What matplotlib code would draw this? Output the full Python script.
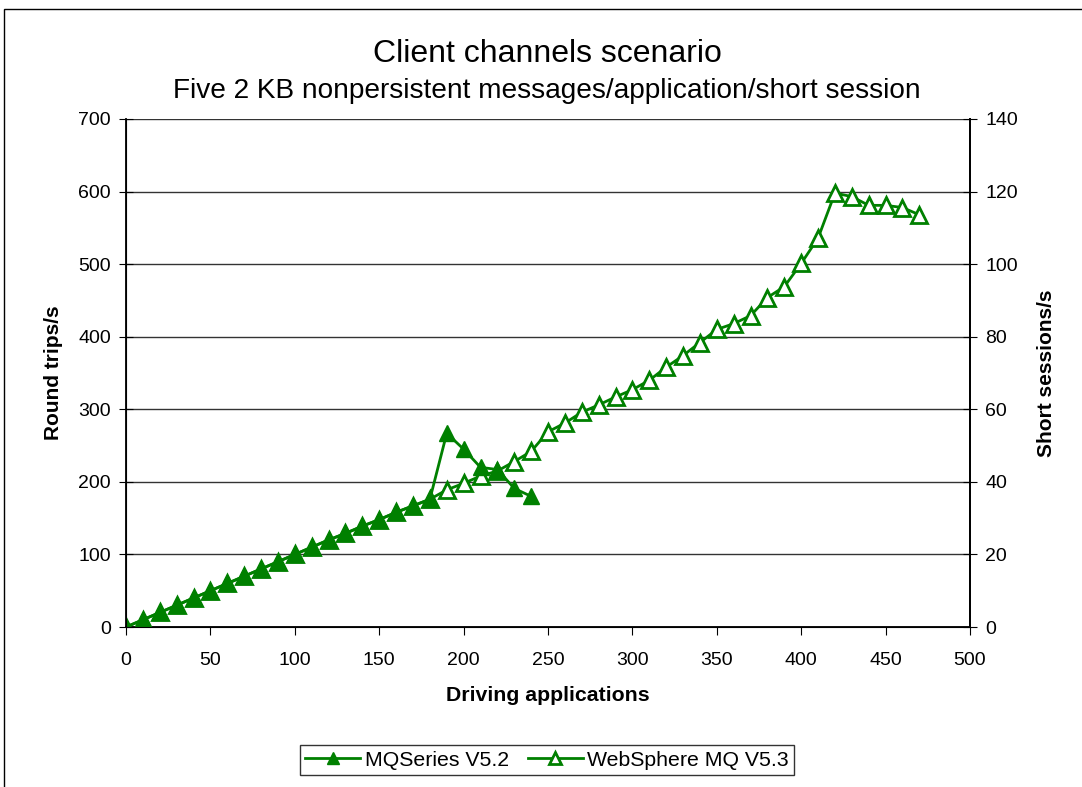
import matplotlib
matplotlib.use("Agg")
import matplotlib.pyplot as plt
from matplotlib.patches import Rectangle

plt.rcParams['font.family'] = ['Liberation Sans', 'DejaVu Sans']

# driving applications
apps_v52 = list(range(0, 250, 10))
apps_v53 = list(range(0, 480, 10))

# round trips/s
trips_v52 = [0, 10, 20, 30, 40, 50, 60, 70, 80, 90, 100, 110, 120, 129, 139,
             148, 158, 167, 176, 267, 245, 220, 217, 191, 180]
trips_v53 = [0, 10, 20, 30, 40, 50, 60, 70, 80, 90, 100, 110, 120, 129, 139,
             148, 158, 167, 176, 189, 198, 208, 215, 228, 242, 269, 281, 296,
             306, 317, 327, 340, 358, 374, 392, 410, 418, 429, 454, 469, 501,
             536, 598, 593, 581, 581, 578, 568]

green = '#008000'

fig = plt.figure(figsize=(10.82, 7.87), dpi=100)
ax = fig.add_axes([0.1165, 0.2033, 0.78, 0.6455])

ax.plot(apps_v52, trips_v52, color=green, lw=2, marker='^', ms=11,
        mfc=green, mec=green, label='MQSeries V5.2', zorder=4)
ax.plot(apps_v53, trips_v53, color=green, lw=2, marker='^', ms=11,
        mfc='white', mec=green, mew=2, label='WebSphere MQ V5.3', zorder=3)

ax.set_xlim(0, 500)
ax.set_ylim(0, 700)
ax.set_xticks(range(0, 501, 50))
ax.set_yticks(range(0, 701, 100))
ax.yaxis.grid(True, color='#333333', lw=1)
ax.set_axisbelow(True)
ax.spines['top'].set_visible(False)
for s in ['left', 'bottom', 'right']:
    ax.spines[s].set_linewidth(1.3)
ax.tick_params(axis='x', direction='out', length=6, labelsize=14, pad=12)
ax.tick_params(axis='y', direction='inout', length=10, labelsize=14, pad=6)
ax.set_xlabel('Driving applications', fontsize=15.3, fontweight='bold', labelpad=12)
ax.set_ylabel('Round trips/s', fontsize=15, fontweight='bold', labelpad=11)

ax2 = ax.twinx()
ax2.set_ylim(0, 140)
ax2.set_yticks(range(0, 141, 20))
ax2.spines['top'].set_visible(False)
ax2.spines['right'].set_linewidth(1.3)
ax2.tick_params(axis='y', direction='inout', length=10, labelsize=14, pad=6)
ax2.set_ylabel('Short sessions/s', fontsize=15, fontweight='bold', labelpad=14)

fig.text(0.5055, 0.931, 'Client channels scenario', ha='center', va='center', fontsize=23)
fig.text(0.5055, 0.884, 'Five 2 KB nonpersistent messages/application/short session',
         ha='center', va='center', fontsize=20.2)

leg = fig.legend(loc='center', bbox_to_anchor=(0.5055, 0.0343), ncol=2,
                 fontsize=15.3, frameon=True, fancybox=False, edgecolor='black',
                 handlelength=2.6, handletextpad=0.2, columnspacing=0.9,
                 borderpad=0.25, markerscale=0.85)
leg.get_frame().set_linewidth(1)

fig.patches.append(Rectangle((4 / 1082, -0.1), 1.2, 1 - 9 / 787 + 0.1,
                             transform=fig.transFigure, fill=False,
                             edgecolor='black', lw=1))

fig.savefig('out.png', dpi=100)
